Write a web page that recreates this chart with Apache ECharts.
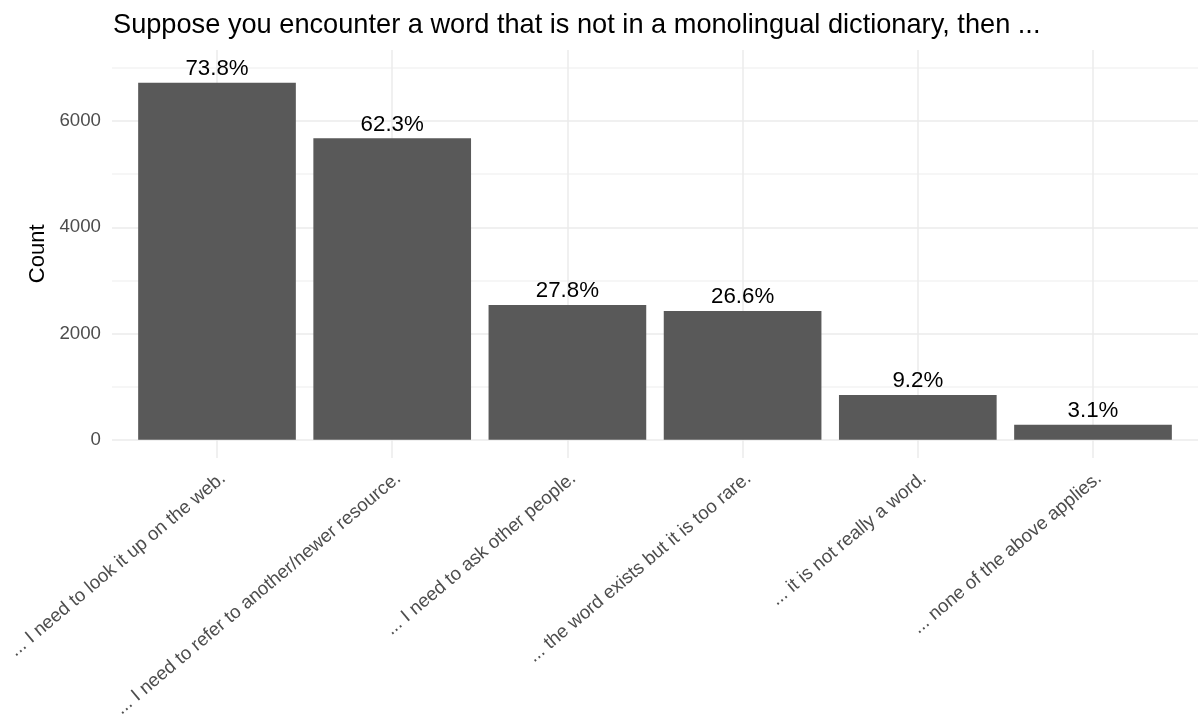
<!DOCTYPE html>
<html>
<head>
<meta charset="utf-8">
<script src="https://cdn.jsdelivr.net/npm/echarts@6/dist/echarts.min.js"></script>
<style>
html,body{margin:0;padding:0;background:#fff;}
#chart{width:1198px;height:720px;}
</style>
</head>
<body>
<div id="chart"></div>
<script>
const titleText = 'Suppose you encounter a word that is not in a monolingual dictionary, then ...';
const categories = [
  '... I need to look it up on the web.',
  '... I need to refer to another/newer resource.',
  '... I need to ask other people.',
  '... the word exists but it is too rare.',
  '... it is not really a word.',
  '... none of the above applies.'
];
const counts = [6720, 5675, 2535, 2423, 840, 282];
const percentLabels = ['73.8%', '62.3%', '27.8%', '26.6%', '9.2%', '3.1%'];
const yTicks = [0, 2000, 4000, 6000];

const FONT = '"Liberation Sans", Arial, sans-serif';
const chart = echarts.init(document.getElementById('chart'), null, {renderer: 'canvas'});

chart.setOption({
  backgroundColor: '#ffffff',
  animation: false,
  title: {
    text: titleText,
    left: 108,
    top: 7,
    textStyle: {fontFamily: FONT, fontSize: 27.2, fontWeight: 'normal', color: '#000'}
  },
  grid: [
    {left: 112, right: 0, top: 68, bottom: 280.3, outerBoundsMode: 'none'},
    {left: 217, right: 105, top: 50, bottom: 262, outerBoundsMode: 'none'},
    {left: 129.4, right: 17.4, top: 68, bottom: 280.3, outerBoundsMode: 'none'}
  ],
  xAxis: [
    {gridIndex: 0, type: 'value', min: 0, max: 1, show: false},
    {gridIndex: 1, type: 'value', min: 0, max: 5, interval: 1,
     axisLine: {show: false}, axisTick: {show: false}, axisLabel: {show: false},
     splitLine: {show: true, lineStyle: {color: '#EBEBEB', width: 1.5}}},
    {gridIndex: 2, type: 'category', data: categories,
     axisLine: {show: false}, axisTick: {show: false}, splitLine: {show: false},
     axisLabel: {rotate: 40, margin: 29, verticalAlign: 'top', fontFamily: FONT, fontSize: 18.7, color: '#4D4D4D', interval: 0}}
  ],
  yAxis: [
    {gridIndex: 0, type: 'value', min: 0, max: 7000, interval: 1000,
     axisLine: {show: false}, axisTick: {show: false},
     axisLabel: {margin: 11, fontFamily: FONT, fontSize: 18.7, color: '#4D4D4D',
       formatter: v => (yTicks.indexOf(v) >= 0 ? String(v) : '')},
     splitLine: {show: true, lineStyle: {color: ['#EBEBEB', '#F3F3F3'], width: 1.5}},
     name: 'Count', nameLocation: 'middle', nameGap: 62,
     nameTextStyle: {fontFamily: FONT, fontSize: 22, color: '#000'}},
    {gridIndex: 1, type: 'value', min: 0, max: 1, show: false},
    {gridIndex: 2, type: 'value', min: 0, max: 7000, show: false}
  ],
  series: [{
    type: 'bar',
    xAxisIndex: 2,
    yAxisIndex: 2,
    data: counts,
    barCategoryGap: '10%',
    itemStyle: {color: '#595959'},
    label: {
      show: true, position: 'top', distance: 3,
      fontFamily: FONT, fontSize: 22.3, color: '#000',
      formatter: p => percentLabels[p.dataIndex]
    }
  }]
});
</script>
</body>
</html>
